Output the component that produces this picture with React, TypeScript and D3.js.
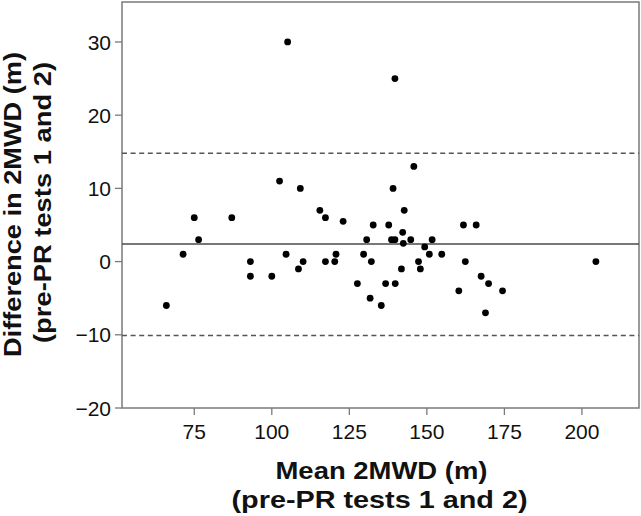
import React from "react";
import * as d3 from "d3";

const meanValues = [66, 71.4, 75, 76.4, 87.1, 93.1, 93.1, 100, 102.5, 104.6, 105.1, 108.6, 109.2, 110.1, 115.5, 117.3, 117.3, 120.3, 120.7, 123, 127.6, 129.6, 130.6, 131.7, 132.1, 132.7, 135.3, 136.7, 137.7, 138.6, 139.1, 139.7, 139.7, 139.8, 141.8, 142.2, 142.4, 142.7, 144.8, 145.8, 147.3, 147.9, 149.3, 150.8, 151.7, 154.8, 160.3, 161.8, 162.4, 165.9, 167.5, 168.9, 169.9, 174.4, 204.5];
const diffValues = [-6, 1, 6, 3, 6, 0, -2, -2, 11, 1, 30, -1, 10, 0, 7, 6, 0, 0, 1, 5.5, -3, 1, 3, -5, 0, 5, -6, -3, 5, 3, 10, 3, 25, -3, -1, 4, 2.5, 7, 3, 13, 0, -1, 2, 1, 3, 1, -4, 5, 0, 5, -2, -7, -3, -4, 0];
const meanDiff = 2.4;
const upperLoA = 14.8;
const lowerLoA = -10.1;
const xTicks = [75, 100, 125, 150, 175, 200];
const yTicks = [-20, -10, 0, 10, 20, 30];
const xTitle = ["Mean 2MWD (m)", "(pre-PR tests 1 and 2)"];
const yTitle = ["Difference in 2MWD (m)", "(pre-PR tests 1 and 2)"];

const W = 641, H = 516;
const L = 122, R = 639, T = 2, B = 408;

export default function App() {
  const x = d3.scaleLinear().domain([51.7, 218.4]).range([L, R]);
  const y = d3.scaleLinear().domain([-20, 35.46]).range([B, T]);
  const axisColor = "#7a7a7a";
  const font = "Liberation Sans, Arial, sans-serif";
  const pts = meanValues.map((m, i) => [m, diffValues[i]]);
  return (
    <div style={{ position: "fixed", left: 0, top: 0 }}>
      <svg width={W} height={H} style={{ display: "block", background: "#fff" }} fontFamily={font}>
        <rect x={L} y={T} width={R - L} height={B - T} fill="none" stroke={axisColor} strokeWidth={1.5} />
        {yTicks.map((t) => (
          <g key={"y" + t}>
            <line x1={L - 7} x2={L} y1={y(t)} y2={y(t)} stroke={axisColor} strokeWidth={1.3} />
            <text x={L - 11} y={y(t)} dy="0.36em" textAnchor="end" fontSize={21} fill="#111">
              {t < 0 ? "\u2212" + Math.abs(t) : t}
            </text>
          </g>
        ))}
        {xTicks.map((t) => (
          <g key={"x" + t}>
            <line x1={x(t)} x2={x(t)} y1={B} y2={B + 7} stroke={axisColor} strokeWidth={1.3} />
            <text x={x(t)} y={439} textAnchor="middle" fontSize={21} fill="#111">
              {t}
            </text>
          </g>
        ))}
        <line x1={L} x2={R} y1={y(meanDiff)} y2={y(meanDiff)} stroke="#4a4a4a" strokeWidth={1.5} />
        {[upperLoA, lowerLoA].map((v) => (
          <line key={v} x1={L} x2={R} y1={y(v)} y2={y(v)} stroke="#555" strokeWidth={1.5} strokeDasharray="5,3.6" />
        ))}
        {pts.map(([m, d], i) => (
          <circle key={i} cx={x(m)} cy={y(d)} r={3.4} fill="#000" />
        ))}
        <text x={381.5} y={479} textAnchor="middle" fontSize={23} fontWeight="bold" fill="#111" textLength={212} lengthAdjust="spacingAndGlyphs">
          {xTitle[0]}
        </text>
        <text x={379.5} y={508} textAnchor="middle" fontSize={23} fontWeight="bold" fill="#111" textLength={296} lengthAdjust="spacingAndGlyphs">
          {xTitle[1]}
        </text>
        <g transform={`translate(21,204.5) rotate(-90)`}>
          <text x={0} y={0} textAnchor="middle" fontSize={23} fontWeight="bold" fill="#111" textLength={305} lengthAdjust="spacingAndGlyphs">
            {yTitle[0]}
          </text>
        </g>
        <g transform={`translate(51,202.5) rotate(-90)`}>
          <text x={0} y={0} textAnchor="middle" fontSize={23} fontWeight="bold" fill="#111" textLength={281} lengthAdjust="spacingAndGlyphs">
            {yTitle[1]}
          </text>
        </g>
      </svg>
    </div>
  );
}
